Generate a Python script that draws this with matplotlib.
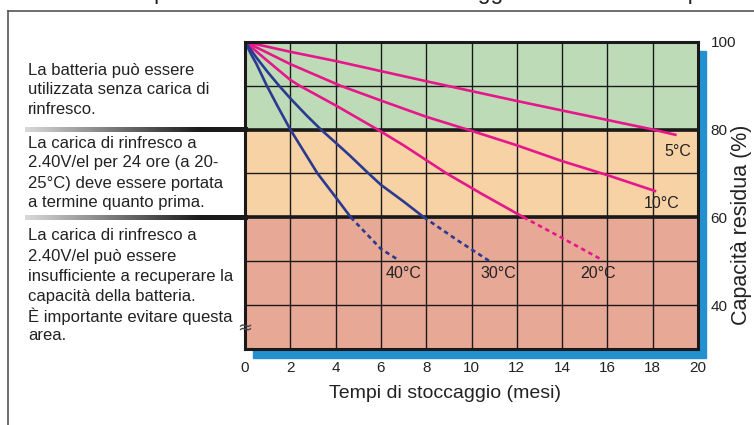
import numpy as np
import matplotlib.pyplot as plt
from matplotlib.collections import LineCollection
from matplotlib.patches import Rectangle

plt.rcParams['font.family'] = ['Liberation Sans', 'DejaVu Sans']

W, H = 754, 425

# curve readings (months, residual capacity %)
m5 = [0, 2, 4, 6, 8, 12, 18, 19]
c5 = [100, 97.7, 95.6, 93.3, 91.0, 86.5, 80, 78.8]
m10 = [0, 2, 4.2, 6, 8, 10, 12, 14, 16, 18.1]
c10 = [100, 94.9, 90, 86.6, 82.9, 79.7, 76.4, 72.8, 69.6, 66]
m20 = [0, 1, 2, 2.4, 4, 5.85, 7, 8.9, 10.5, 12.3]
c20 = [100, 95.6, 91.3, 90, 85.5, 80, 76.4, 70, 65.2, 60]
m20_d = [12.3, 14, 15.8]
c20_d = [60, 55.3, 50.2]
m30 = [0, 0.5, 1, 1.5, 2, 2.7, 3.35, 4, 4.6, 5.35, 6, 7, 7.9]
c30 = [100, 96.4, 93.1, 90, 87.1, 83.3, 80, 77, 74.2, 70.5, 67.4, 63.6, 60]
m30_d = [7.9, 9.4, 10.8]
c30_d = [60, 54.7, 50]
m40 = [0, 0.25, 0.5, 0.96, 1.45, 2, 2.6, 3.2, 4, 4.67]
c40 = [100, 97.3, 95, 90, 85.2, 80, 75, 70, 64.6, 60]
m40_d = [4.67, 6, 6.77]
c40_d = [60, 52.8, 50.3]

temp_labels = ['5°C', '10°C', '20°C', '30°C', '40°C']
label_x = [19.1, 18.4, 15.6, 11.2, 7.0]
label_y = [74.9, 63.2, 47.2, 47.2, 47.2]

x_ticks = list(range(0, 21, 2))
y_ticks = [40, 60, 80, 100]
y_minor = [30, 50, 70, 90]

zone_text = [
    ["La batteria può essere", "utilizzata senza carica di", "rinfresco."],
    ["La carica di rinfresco a", "2.40V/el per 24 ore (a 20-",
     "25°C) deve essere portata", "a termine quanto prima."],
    ["La carica di rinfresco a", "2.40V/el può essere",
     "insufficiente a recuperare la", "capacità della batteria.",
     "È importante evitare questa", "area."],
]
zone_y = [70, 143, 236]

GREEN = '#bedbb7'
ORANGE = '#f7d2a5'
RED = '#e8a896'
MAGENTA = '#e5178b'
NAVY = '#2b3a90'
SHADOW = '#2391d0'
TXT = '#222222'


def fx(px):
    return px / W


def fy(py):
    return 1 - py / H


fig = plt.figure(figsize=(W / 100, H / 100), dpi=100)

# plot area in pixels
L, R, T, B = 245, 698, 41.7, 349
ax = fig.add_axes([fx(L), fy(B), fx(R - L), (B - T) / H])

# blue shadow
fig.patches.append(Rectangle((fx(L + 8), fy(B + 9)), fx(R - L), (B - T) / H,
                             transform=fig.transFigure, color=SHADOW,
                             zorder=-1))

ax.axhspan(80, 100, color=GREEN, zorder=0)
ax.axhspan(60, 80, color=ORANGE, zorder=0)
ax.axhspan(30, 60, color=RED, zorder=0)

ax.set_xlim(0, 20)
ax.set_ylim(30, 100)
ax.set_xticks(x_ticks)
ax.set_yticks(y_ticks)
ax.set_yticks(y_minor, minor=True)
ax.yaxis.tick_right()
ax.tick_params(axis='both', which='both', length=0, labelsize=11,
               labelcolor=TXT)
ax.tick_params(axis='x', pad=9)
ax.tick_params(axis='y', pad=9)
ax.grid(which='both', color='#1a1a1a', lw=1.0, zorder=1)
ax.set_axisbelow(False)
for s in ax.spines.values():
    s.set_linewidth(2.2)
    s.set_color('#1a1a1a')
    s.set_zorder(5)

ax.axhline(80, color='#1a1a1a', lw=2.6, zorder=2)
ax.axhline(60, color='#1a1a1a', lw=2.6, zorder=2)

lw = 1.9
dash = (0, (1.7, 1.4))
ax.plot(m5, c5, color=MAGENTA, lw=lw, zorder=3)
ax.plot(m10, c10, color=MAGENTA, lw=lw, zorder=3)
ax.plot(m20, c20, color=MAGENTA, lw=lw, zorder=3)
ax.plot(m20_d, c20_d, color=MAGENTA, lw=lw, ls=dash, zorder=3)
ax.plot(m30, c30, color=NAVY, lw=lw, zorder=3)
ax.plot(m30_d, c30_d, color=NAVY, lw=lw, ls=dash, zorder=3)
ax.plot(m40, c40, color=NAVY, lw=lw, zorder=3)
ax.plot(m40_d, c40_d, color=NAVY, lw=lw, ls=dash, zorder=3)

for t, x, y in zip(temp_labels, label_x, label_y):
    ax.text(x, y, t, fontsize=11.5, color=TXT, ha='center', va='center',
            zorder=4)

ax.text(0, 34.6, '≈', fontsize=13, color='#444444', ha='center',
        va='center', zorder=6, family='DejaVu Sans')

# axis titles
fig.text(fx(444.5), fy(394), 'Tempi di stoccaggio (mesi)', fontsize=14,
         color=TXT, ha='center', va='center')
fig.text(fx(741), fy(225), 'Capacità residua (%)', fontsize=15.5,
         color=TXT, ha='center', va='center', rotation=90)

# title, cut by the top edge as in the source picture
fig.text(fx(125), fy(-0.5),
         'Capacità residua durante lo stoccaggio alle diverse temperature',
         fontsize=16.5, color=TXT, ha='left', va='baseline')

# frame
fig.add_artist(plt.Line2D([fx(8), fx(8)], [fy(10.5), 0], color='#555555',
                          lw=1.2, transform=fig.transFigure))
fig.add_artist(plt.Line2D([fx(8), 1], [fy(10.5), fy(10.5)], color='#555555',
                          lw=1.2, transform=fig.transFigure))

# separators with grey-to-black gradient
xs = np.arange(25, L, 1.5)
shade = np.clip(0.85 - (xs - 25) / (200 - 25) * 0.75, 0.1, 1)
for yy in [129.3, 217]:
    segs = [[(fx(a), fy(yy)), (fx(a + 3), fy(yy))] for a in xs]
    cols = [(s, s, s) for s in shade]
    fig.add_artist(LineCollection(segs, colors=cols, linewidths=2.4,
                                  capstyle='butt', antialiased=False,
                                  transform=fig.transFigure))

for lines, y0 in zip(zone_text, zone_y):
    for i, line in enumerate(lines):
        fig.text(fx(28), fy(y0 + i * 20), line, fontsize=12, color=TXT,
                 ha='left', va='center')

fig.savefig('out.png', dpi=100)
